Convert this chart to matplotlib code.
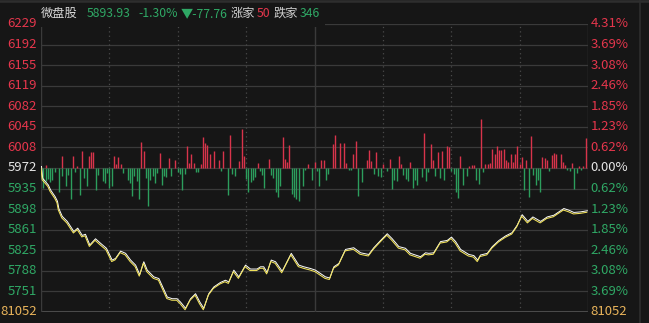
import matplotlib
matplotlib.use('Agg')
import matplotlib.pyplot as plt
from matplotlib import transforms
from matplotlib.patches import Rectangle
from matplotlib.lines import Line2D

plt.rcParams['font.family'] = ['Noto Sans CJK SC', 'DejaVu Sans']

# intraday price (minute from open, index level)
price_minute = [0, 0.5, 3, 4, 6, 7, 7.6, 9.1, 11.3, 14.2, 15.9, 17.9, 19.3, 21.2, 23.7,
                25.9, 28.5, 31, 32.5, 34.7, 36.9, 39.1, 41.3, 43.1, 44.9, 46.4, 49.3,
                51.5, 55.2, 57.4, 59.5, 61, 63.2, 65.4, 67.6, 69.5, 71.2, 73.4, 75.6,
                78.5, 80.7, 82.2, 84.4, 86.6, 89.5, 91.7, 94.6, 96.1, 97.5, 99, 100.8,
                102.7, 105.6, 109.6, 112.9, 115.1, 118, 120.2, 122.4, 124.6, 126.5,
                128.3, 130.5, 133.4, 137, 140, 143.6, 145.8, 148.8, 151.7, 153.9,
                156.8, 159.7, 161.9, 166.3, 168.5, 169.9, 172.1, 175.1, 178, 179.9,
                181.7, 183.9, 187.5, 189.7, 191.4, 192.6, 195.6, 197.8, 200.7, 203.6,
                206.5, 208.7, 210.9, 213.4, 215.6, 219, 221.9, 224.8, 229.2, 231.4,
                233.6, 236.5, 239.5]
price_value = [5972, 5951, 5939, 5930, 5918, 5910, 5897, 5883, 5874, 5856, 5862, 5849,
               5851, 5832, 5843, 5835, 5826, 5805, 5808, 5821, 5817, 5805, 5796, 5779,
               5802, 5787, 5775, 5772, 5739, 5736, 5736, 5730, 5719, 5736, 5745, 5730,
               5719, 5745, 5757, 5765, 5769, 5766, 5787, 5775, 5796, 5789, 5789, 5793,
               5793, 5783, 5805, 5802, 5785, 5817, 5796, 5793, 5790, 5787, 5781, 5775,
               5773, 5793, 5799, 5824, 5827, 5818, 5815, 5827, 5840, 5852, 5843, 5829,
               5826, 5817, 5811, 5818, 5817, 5818, 5838, 5840, 5846, 5838, 5824, 5815,
               5813, 5805, 5814, 5817, 5829, 5840, 5848, 5854, 5867, 5886, 5874, 5882,
               5874, 5882, 5885, 5897, 5894, 5890, 5891, 5893]

# up / down bars (minute, height)
red_bars = [(2, 3), (9, 12), (14, 12), (16, 2), (18, 17), (21, 12), (22, 16), (23, 16),
            (32, 12), (33, 4), (34, 11), (35, 4), (44, 26), (45, 17), (52, 15), (56, 10),
            (59, 8), (64, 22), (65, 5), (66, 14), (67, 5), (70, 4), (71, 31), (72, 25),
            (73, 23), (74, 14), (76, 17), (78, 8), (80, 17), (83, 33), (87, 7), (88, 39),
            (89, 12), (95, 5), (100, 9), (106, 31), (107, 9), (108, 6), (109, 23),
            (117, 4), (120, 6), (123, 8), (124, 8), (128, 24), (129, 33), (131, 25),
            (133, 25), (134, 5), (137, 14), (138, 27), (143, 8), (144, 18), (145, 7),
            (147, 16), (150, 4), (153, 9), (157, 12), (158, 4), (162, 6), (168, 35),
            (171, 24), (172, 8), (174, 16), (176, 17), (178, 22), (179, 21), (184, 12),
            (188, 2), (189, 3), (190, 3), (193, 49), (195, 4), (196, 4), (197, 5),
            (198, 19), (199, 14), (200, 22), (201, 18), (202, 18), (203, 19), (204, 8),
            (205, 6), (206, 14), (207, 6), (208, 14), (209, 22), (210, 4), (211, 11),
            (213, 8), (215, 32), (220, 11), (221, 10), (222, 8), (224, 13), (225, 15),
            (226, 14), (228, 14), (229, 6), (230, 3), (233, 5), (236, 2), (238, 2),
            (239, 30)]
green_bars = [(0, 5), (1, 20), (2, 13), (3, 11), (4, 14), (5, 12), (6, 4), (8, 24),
              (9, 8), (11, 18), (12, 7), (13, 31), (15, 4), (17, 27), (19, 10), (20, 18),
              (24, 22), (25, 7), (27, 13), (28, 15), (29, 5), (30, 20), (31, 18), (36, 5),
              (38, 12), (39, 15), (40, 28), (41, 8), (42, 13), (43, 31), (46, 10),
              (47, 38), (48, 12), (49, 8), (50, 15), (51, 5), (53, 17), (54, 8), (55, 9),
              (57, 8), (60, 4), (61, 6), (62, 22), (63, 6), (68, 4), (69, 4), (79, 3),
              (82, 27), (84, 6), (85, 8), (90, 11), (91, 24), (92, 14), (93, 12), (94, 9),
              (96, 3), (97, 7), (98, 20), (101, 7), (102, 10), (103, 24), (104, 29),
              (105, 18), (110, 26), (111, 29), (112, 31), (113, 33), (115, 18), (116, 2),
              (119, 12), (121, 3), (122, 18), (125, 12), (126, 6), (135, 2), (136, 2),
              (139, 28), (141, 14), (146, 6), (148, 8), (149, 9), (152, 3), (154, 21),
              (155, 12), (156, 13), (159, 7), (160, 11), (161, 13), (163, 20), (164, 12),
              (165, 17), (167, 9), (169, 13), (170, 4), (173, 8), (175, 10), (177, 12),
              (180, 3), (181, 6), (182, 24), (183, 30), (185, 17), (187, 8), (191, 12),
              (192, 16), (194, 4), (212, 22), (214, 29), (216, 7), (217, 17), (218, 12),
              (219, 24), (223, 3), (231, 2), (232, 3), (234, 21), (235, 5), (237, 2)]

left_labels = ['6229', '6192', '6155', '6119', '6082', '6045', '6008', '5972',
               '5935', '5898', '5861', '5825', '5788', '5751', '81052']
right_labels = ['4.31%', '3.69%', '3.08%', '2.46%', '1.85%', '1.23%', '0.62%', '0.00%',
                '0.62%', '1.23%', '1.85%', '2.46%', '3.08%', '3.69%', '81052']

prev_close = 5972
top_level = 6229

BG = '#161616'
GRID = '#3a3a3a'
RED = '#e5364c'
GREEN = '#2fa865'
WHITE = '#e6e6e6'
ORANGE = '#e8b35a'

W, H = 649, 323
fig = plt.figure(figsize=(W / 100, H / 100), dpi=100)
fig.patch.set_facecolor(BG)
ax = fig.add_axes([41 / W, 11 / H, 547 / W, 288 / H])
ax.set_facecolor(BG)
step = (top_level - prev_close) / 7
ax.set_xlim(0, 240)
ax.set_ylim(prev_close - 7 * step, top_level)
for s in ax.spines.values():
    s.set_visible(False)
ax.set_xticks([])
ax.set_yticks([])

levels = [top_level - i * step for i in range(len(left_labels))]
for lv in levels[:-1]:
    ax.axhline(lv, color=GRID, lw=0.9, zorder=1)
ax.axhline(levels[-1], color='#4a4a4a', lw=2.2, zorder=1)

for m in range(0, 241, 30):
    if m in (0, 120, 240):
        ax.axvline(m, color=GRID, lw=1.0, zorder=1)
    else:
        ax.axvline(m, color='#4a4a4a', lw=0.9, ls=(0, (1, 2.5)), zorder=1)

# bars on their own scale, baseline in the middle
ax2 = ax.twinx()
ax2.set_ylim(-144, 144)
ax2.axis('off')
rm, rh = zip(*red_bars)
gm, gh = zip(*green_bars)
ax2.vlines(rm, 0, rh, color='#d8344b', lw=1.0, zorder=2)
ax2.vlines(gm, [-h for h in gh], 0, color='#2c9e5d', lw=1.0, zorder=2)

# price line: white with yellow on top
tr_w = transforms.offset_copy(ax.transData, fig=fig, x=0.5, y=1.5, units='dots')
ax2.plot(price_minute, price_value, color='#ffffff', lw=0.7, transform=tr_w, zorder=3)
ax2.plot(price_minute, price_value, color='#f3e45c', lw=0.75, transform=ax.transData, zorder=4)

blend = transforms.blended_transform_factory(ax.transAxes, ax.transData)
for i, lv in enumerate(levels):
    if i < 7:
        c = RED
    elif i == 7:
        c = WHITE
    elif i < len(levels) - 1:
        c = GREEN
    else:
        c = ORANGE
    ax.text(-4 / 547, lv, left_labels[i], transform=blend, ha='right', va='center',
            color=c, fontsize=9.5, clip_on=False)
    ax.text(1 + 2.5 / 547, lv, right_labels[i], transform=blend, ha='left', va='center',
            color=c, fontsize=9.5, clip_on=False)

# header strip over the top of the plot
fig.add_artist(Rectangle((40 / W, (H - 27) / H), 285 / W, 27 / H, transform=fig.transFigure,
                         facecolor=BG, edgecolor='none', zorder=3))
fig.add_artist(Line2D([0, 1], [1 - 1.2 / H] * 2, transform=fig.transFigure,
                      color='#2e2e2e', lw=1.8, zorder=4))
fig.add_artist(Line2D([640 / W] * 2, [0, 1], transform=fig.transFigure,
                      color='#2e2e2e', lw=1.2, zorder=4))

header = [(41, '微盘股', '#d6d6d6'), (87, '5893.93', GREEN), (138, '-1.30%', GREEN),
          (181, '▼-77.76', GREEN), (231, '涨家', '#cfcfcf'), (257, '50', RED),
          (274, '跌家', '#cfcfcf'), (300, '346', GREEN)]
for x, t, c in header:
    fig.text(x / W, 1 - 13.5 / H, t, color=c, fontsize=8.8, ha='left', va='center',
             zorder=5)

fig.savefig('out.png', dpi=100, facecolor=BG)
